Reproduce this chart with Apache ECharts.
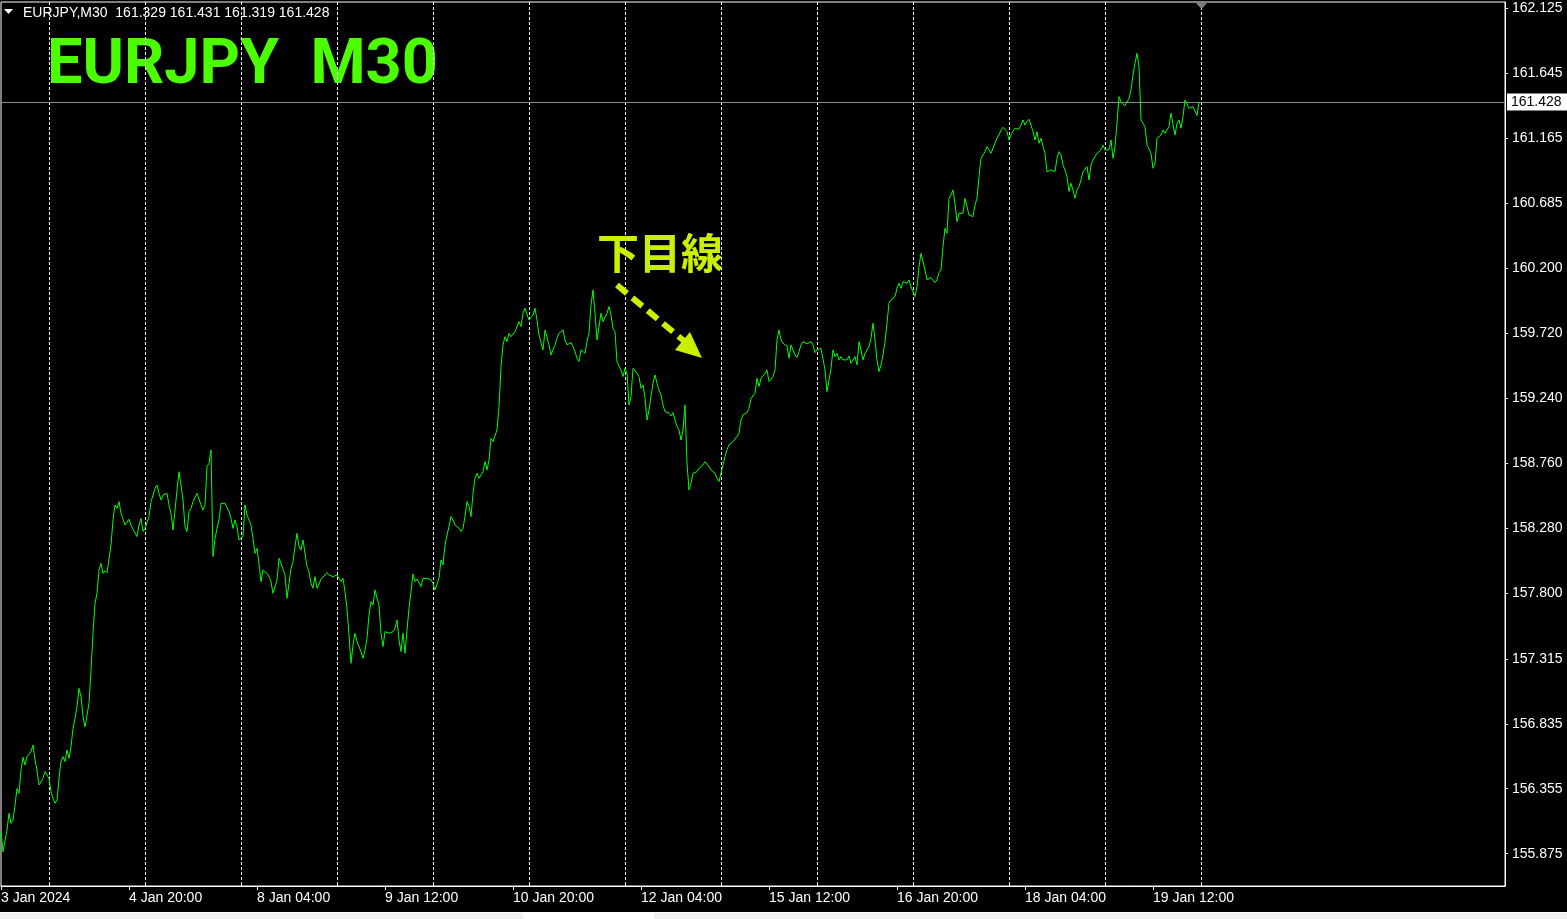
<!DOCTYPE html>
<html><head><meta charset="utf-8">
<script src="https://cdn.jsdelivr.net/npm/echarts@6/dist/echarts.min.js"></script>
<style>html,body{margin:0;padding:0;background:#000;overflow:hidden;}#c{width:1567px;height:919px;}</style>
</head><body><div id="c"></div>
<script>
// ---- data ----
const symbolName = 'EURJPY,M30';
const headerOHLC = ['161.329', '161.431', '161.319', '161.428'];
const titleText = 'EURJPY  M30';
const noteText = '下目線';
const lastPrice = 161.428;
// M30 bars: first trading day starts 12:00, weekends skipped
const tradingDays = ['3 Jan','4 Jan','5 Jan','8 Jan','9 Jan','10 Jan','11 Jan','12 Jan','15 Jan','16 Jan','17 Jan','18 Jan','19 Jan'];
const firstDayStartHour = 12;
const xTickLabels = ['3 Jan 2024','4 Jan 20:00','8 Jan 04:00','9 Jan 12:00','10 Jan 20:00','12 Jan 04:00','15 Jan 12:00','16 Jan 20:00','18 Jan 04:00','19 Jan 12:00'];
const yTickValues = [162.125,161.645,161.165,160.685,160.200,159.720,159.240,158.760,158.280,157.800,157.315,156.835,156.355,155.875];
const yTickLabels = ['162.125','161.645','161.165','160.685','160.200','159.720','159.240','158.760','158.280','157.800','157.315','156.835','156.355','155.875'];

// close prices, 3 Jan 12:00 -> 8 Jan 02:30
const closesPart1 = [
156.037,155.889,155.976,156.050,156.173,156.099,156.123,156.234,156.357,156.321,
156.493,156.587,156.530,156.592,156.596,156.628,156.678,156.567,156.493,156.382,
156.394,156.431,156.481,156.481,156.431,156.333,156.284,156.247,156.271,156.431,
156.555,156.592,156.555,156.641,156.579,156.665,156.801,156.875,156.961,157.097,
157.035,156.887,156.813,156.813,156.986,157.232,157.503,157.725,157.799,157.971,
158.020,157.947,157.966,157.951,157.947,158.156,158.341,158.452,158.427,158.476,
158.390,158.402,158.304,158.316,158.346,158.304,158.272,158.267,158.218,158.304,
158.353,158.255,158.279,158.291,158.365,158.476,158.476,158.575,158.599,158.538,
158.489,158.526,158.538,158.538,158.452,158.390,158.267,158.279,158.562,158.698,
158.599,158.489,158.291,158.255,158.402,158.427,158.476,158.476,158.538,158.538,
158.452,158.415,158.452,158.735,158.760,158.858,158.070,158.205,158.279,158.341,
158.464,158.464,158.464,158.452,158.402,158.353,158.279,158.341,158.291,158.193,
158.181,158.218,158.452,158.378,158.365,158.304,158.205,158.094,158.131,158.020,
157.885,157.971,157.983,157.947,157.922,157.885,157.799,157.811,157.897,158.057,
158.020,158.008,157.934,157.762,157.873,157.983,158.033,158.144,158.242,158.144];
// 8 Jan 03:00 -> 10 Jan 17:30
const closesPart2 = [
158.119,158.193,158.193,157.996,157.959,157.873,157.836,157.922,157.836,157.868,
157.903,157.917,157.935,157.952,157.935,157.922,157.922,157.932,157.935,157.922,
157.885,157.910,157.811,157.688,157.491,157.282,157.417,157.504,157.442,157.430,
157.368,157.319,157.380,157.467,157.639,157.738,157.713,157.824,157.762,157.713,
157.504,157.405,157.516,157.528,157.504,157.491,157.516,157.540,157.602,157.454,
157.368,157.504,157.356,157.528,157.688,157.811,157.942,157.885,157.905,157.898,
157.848,157.910,157.898,157.910,157.910,157.898,157.873,157.824,157.824,157.910,
158.046,158.009,158.156,158.230,158.292,158.366,158.341,158.304,158.304,158.280,
158.255,158.280,158.366,158.477,158.440,158.366,158.538,158.649,158.686,158.649,
158.674,158.698,158.772,158.711,158.785,158.945,158.920,158.932,159.006,159.179,
159.474,159.635,159.696,159.659,159.721,159.696,159.701,159.733,159.745,159.807,
159.770,159.869,159.906,159.893,159.819,159.807,159.856,159.906,159.819,159.709,
159.709,159.598,159.745,159.745,159.635,159.561,159.598,159.635,159.684,159.721,
159.733,159.745,159.672,159.635,159.635,159.652,159.622,159.585,159.536,159.511,
159.598,159.610,159.573,159.659,159.721,159.930,160.041,159.869,159.672,159.684];
// 10 Jan 18:00 -> 15 Jan 08:30
const closesPart3 = [
159.869,159.807,159.819,159.869,159.918,159.856,159.758,159.733,159.511,159.511,
159.450,159.401,159.462,159.425,159.191,159.253,159.462,159.450,159.425,159.401,
159.314,159.339,159.240,159.080,159.154,159.167,159.351,159.413,159.351,159.302,
159.265,159.191,159.142,159.130,159.130,159.110,159.134,159.080,159.031,159.006,
158.932,159.006,159.191,158.760,158.563,158.612,158.686,158.691,158.698,158.723,
158.723,158.748,158.772,158.760,158.735,158.711,158.706,158.686,158.649,158.625,
158.637,158.748,158.809,158.859,158.896,158.908,158.920,158.932,158.957,158.982,
159.080,159.117,159.117,159.134,159.167,159.240,159.240,159.277,159.388,159.327,
159.388,159.376,159.425,159.450,159.364,159.364,159.401,159.450,159.672,159.745,
159.672,159.647,159.635,159.627,159.536,159.635,159.647,159.561,159.543,159.585,
159.635,159.659,159.652,159.642,159.647,159.659,159.635,159.578,159.598,159.598,
159.610,159.598,159.450,159.290,159.302,159.462,159.598,159.548,159.573,159.524,
159.548,159.524,159.511,159.524,159.553,159.499,159.511,159.548,159.487,159.659,
159.598,159.524,159.573,159.598,159.622,159.684,159.795,159.672,159.524,159.438,
159.487,159.561,159.659,159.795,159.943,159.967,159.980,159.992,160.053,160.090];
// 15 Jan 09:00 -> 19 Jan 23:30
const closesPart4 = [
160.053,160.102,160.095,160.090,160.115,160.065,160.053,159.992,160.065,160.213,
160.312,160.250,160.189,160.115,160.115,160.134,160.115,160.095,160.115,160.169,
160.189,160.361,160.497,160.460,160.718,160.743,160.780,160.681,160.546,160.607,
160.607,160.607,160.718,160.657,160.595,160.607,160.583,160.669,160.718,160.878,
161.014,161.039,161.063,161.100,161.076,161.051,161.039,161.125,161.162,161.186,
161.223,161.243,161.236,161.211,161.149,161.186,161.211,161.236,161.228,161.228,
161.260,161.297,161.260,161.285,161.302,161.260,161.211,161.149,161.211,161.125,
161.162,161.100,161.051,160.915,160.903,160.928,160.940,160.915,161.014,161.063,
161.039,160.965,160.928,160.878,160.768,160.829,160.780,160.718,160.780,160.805,
160.854,160.915,160.915,160.952,160.854,160.965,161.002,161.014,161.051,161.051,
161.076,161.112,161.076,161.076,161.076,161.149,161.014,161.100,161.273,161.470,
161.433,161.416,161.401,161.396,161.457,161.519,161.630,161.716,161.790,161.691,
161.297,161.285,161.248,161.112,161.112,161.051,160.940,160.977,161.162,161.149,
161.186,161.223,161.199,161.199,161.248,161.347,161.334,161.186,161.273,161.297,
161.236,161.322,161.445,161.445,161.383,161.396,161.396,161.383,161.330,161.428];

// ---- build ----
const closes = closesPart1.concat(closesPart2, closesPart3, closesPart4);
const pad2 = n => (n < 10 ? '0' : '') + n;
const categories = [];
const dayStartIdx = [];
tradingDays.forEach((d, di) => {
  const startH = di === 0 ? firstDayStartHour : 0;
  if (di > 0) dayStartIdx.push(categories.length);
  for (let h = startH; h < 24; h++) {
    categories.push(d + ' ' + pad2(h) + ':00');
    categories.push(d + ' ' + pad2(h) + ':30');
  }
});
dayStartIdx.push(categories.length); // start of next session
const nBars = categories.length;
const TOTAL = 753; // chart shift area on the right (empty future slots)
for (let i = nBars; i < TOTAL; i++) categories.push('future' + i);
const LABEL_STEP = 64;
const labelSet = {};
xTickLabels.forEach((t, k) => { labelSet[k * LABEL_STEP] = t; });
const daySet = {};
dayStartIdx.forEach(i => { daySet[i] = true; });

const FONT = 'Liberation Sans';
const chart = echarts.init(document.getElementById('c'), null, {renderer: 'canvas'});
chart.setOption({
  backgroundColor: '#000',
  animation: false,
  grid: {left: 1, right: 62, top: 2, bottom: 33, containLabel: false, outerBoundsMode: 'none',
    show: true, borderColor: '#ffffff', borderWidth: 1, backgroundColor: 'transparent'},
  xAxis: [{
    type: 'category', data: categories, boundaryGap: false, position: 'bottom',
    axisLine: {show: true, lineStyle: {color: '#ffffff', width: 1}},
    axisTick: {show: true, length: 4, lineStyle: {color: '#ffffff'}, interval: i => labelSet[i] !== undefined},
    axisLabel: {show: true, interval: i => labelSet[i] !== undefined, formatter: (v, i) => labelSet[i] || '',
      align: 'left', color: '#ffffff', fontFamily: FONT, fontSize: 14, margin: 5},
    splitLine: {show: false}
  }, {
    type: 'category', data: categories, boundaryGap: false, position: 'bottom',
    axisLine: {show: false},
    axisTick: {show: true, inside: true, length: 3, lineStyle: {color: '#ffffff'}, interval: i => !!daySet[i]},
    axisLabel: {show: false},
    splitLine: {show: true, interval: i => !!daySet[i], lineStyle: {color: '#ffffff', width: 1, type: [3, 2]}}
  }],
  yAxis: {
    type: 'value', position: 'right', min: 155.636, max: 162.169, scale: true,
    axisLine: {show: true, lineStyle: {color: '#ffffff'}},
    axisTick: {show: true, length: 3, lineStyle: {color: '#ffffff'}, customValues: yTickValues},
    axisLabel: {show: true, customValues: yTickValues, color: '#ffffff', fontFamily: FONT, fontSize: 14, margin: 7,
      formatter: v => { const k = yTickValues.indexOf(v); return k >= 0 ? yTickLabels[k] : ''; }},
    splitLine: {show: false}
  },
  series: [{
    type: 'line', xAxisIndex: 0, data: closes, showSymbol: false, symbol: 'none', smooth: false,
    lineStyle: {color: '#00ff00', width: 1}, z: 5,
    markLine: {
      silent: true, symbol: ['none', 'none'], animation: false,
      lineStyle: {color: '#8c8c8c', type: 'solid', width: 1},
      label: {show: true, position: 'end', distance: 2, formatter: headerOHLC[3], backgroundColor: '#ffffff', color: '#000000',
        fontFamily: FONT, fontSize: 14, padding: [2, 6, 1, 4]},
      data: [{yAxis: lastPrice}]
    }
  }],
  graphic: [
    {type: 'text', z: -1, style: {x: 47, y: 67, text: titleText, fill: '#4cff00', font: 'bold 63px Roboto', textVerticalAlign: 'middle'}},
    {type: 'polygon', z: 10, shape: {points: [[4, 9], [13, 9], [8.5, 14]]}, style: {fill: '#ffffff'}},
    {type: 'text', z: 10, style: {x: 23, y: 13, text: symbolName + '  ' + headerOHLC.join(' '), fill: '#ffffff', font: '14px "Liberation Sans"', textVerticalAlign: 'middle'}},
    {type: 'text', z: 10, style: {x: 597, y: 253, text: noteText, fill: '#c8f000', font: 'bold 42px "Noto Sans CJK JP"', textVerticalAlign: 'middle'}},
    {type: 'line', z: 10, shape: {x1: 617, y1: 285, x2: 684, y2: 341}, style: {stroke: '#c8f000', lineWidth: 6, lineDash: [13, 7]}},
    {type: 'polygon', z: 10, shape: {points: [[690, 332], [675, 350], [702, 358]]}, style: {fill: '#c8f000'}},
    {type: 'polygon', z: 10, shape: {points: [[1195, 2], [1208, 2], [1201.5, 9]]}, style: {fill: '#7f7f7f'}},
    {type: 'rect', z: 10, shape: {x: 0, y: 912, width: 1567, height: 7}, style: {fill: '#f0f0f0'}},
    {type: 'line', z: 11, shape: {x1: 0, y1: 912.5, x2: 1567, y2: 912.5}, style: {stroke: '#ffffff', lineWidth: 1}},
    {type: 'rect', z: 11, shape: {x: 523, y: 913, width: 131, height: 6}, style: {fill: '#ffffff'}}
  ]
});
</script></body></html>
